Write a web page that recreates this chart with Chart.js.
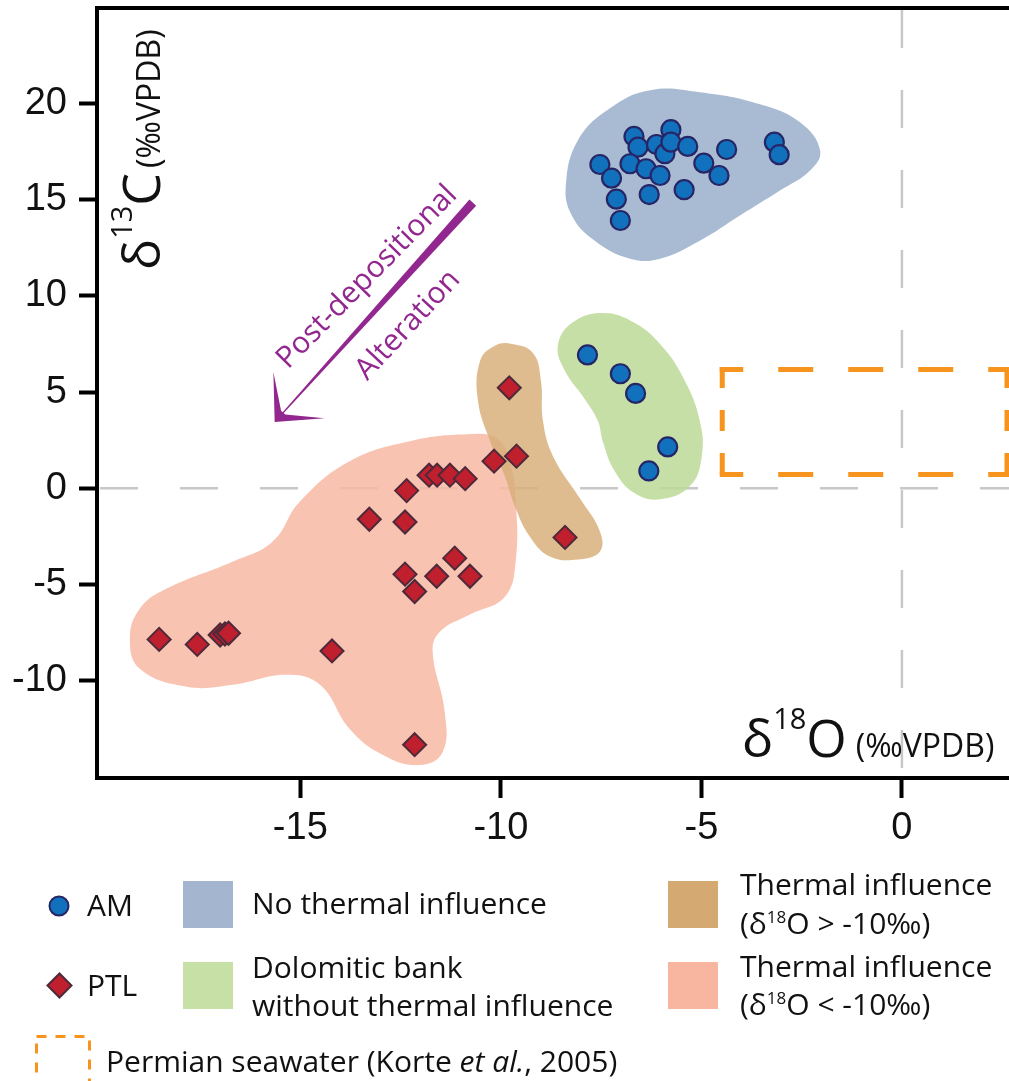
<!DOCTYPE html>
<html>
<head>
<meta charset="utf-8">
<script src="https://cdn.jsdelivr.net/npm/chart.js@4.4.1/dist/chart.umd.min.js"></script>
<style>
  html, body { margin: 0; padding: 0; background: #fff; }
  canvas { display: block; }
</style>
</head>
<body>
<canvas id="chart" width="1009" height="1081"></canvas>
<script>
const FONT = "'Open Sans', 'Noto Sans', sans-serif";
const TICK_FONT = "'Liberation Sans', Arial, sans-serif";
const PURPLE = '#92278f';
const ORANGE = '#f7941d';

// Axis ranges and ticks (δ18O on x, δ13C on y, ‰ VPDB)
const X_MIN = -20.07, X_MAX = 2.67;
const Y_MIN = -15.05, Y_MAX = 24.95;
const xTicks = [-15, -10, -5, 0];
const yTicks = [-10, -5, 0, 5, 10, 15, 20];

// AM samples (circles)
const amX = [-7.53, -7.24, -7.12, -7.02, -6.68, -6.58, -6.78, -6.38, -6.03, -6.30, -6.12, -5.91, -5.76, -5.76, -5.34, -5.43, -4.94, -4.56, -4.37, -3.18, -3.06,
             -7.84, -7.02, -6.64, -5.84, -6.31];
const amY = [16.82, 16.11, 15.02, 13.91, 18.28, 17.72, 16.86, 16.60, 16.25, 15.26, 17.86, 17.38, 18.63, 17.98, 17.76, 15.51, 16.89, 16.25, 17.60, 17.98, 17.33,
             6.93, 5.95, 4.93, 2.15, 0.90];

// PTL samples (diamonds)
const ptlX = [-9.79, -9.61, -10.17, -8.40, -11.79, -11.59, -11.27, -10.89, -12.35, -13.28, -12.39, -11.15, -12.39, -11.60, -10.77, -12.15,
              -18.52, -17.57, -17.00, -16.88, -16.79, -14.21, -12.15];
const ptlY = [5.22, 1.67, 1.41, -2.55, 0.68, 0.68, 0.68, 0.50, -0.12, -1.61, -1.75, -3.63, -4.46, -4.57, -4.57, -5.36,
              -7.85, -8.11, -7.62, -7.57, -7.53, -8.45, -13.32];

// Group outlines (closed smooth shapes)
const blueBlobX = [-8.38, -8.08, -7.28, -6.28, -5.04, -3.54, -2.54, -2.04, -2.29, -3.04, -4.04, -5.04, -6.03, -6.78, -7.66, -8.23];
const blueBlobY = [15.73, 18.07, 19.74, 20.68, 20.57, 19.95, 19.01, 17.55, 16.51, 15.47, 14.17, 12.86, 11.93, 11.93, 12.86, 14.17];
const greenBlobX = [-7.46, -6.66, -5.99, -5.41, -5.04, -4.99, -5.29, -6.03, -6.66, -7.16, -7.46, -7.58, -7.91, -8.40, -8.58, -8.23];
const greenBlobY = [9.11, 8.59, 7.40, 5.57, 3.49, 1.67, 0.10, -0.57, -0.26, 0.89, 2.45, 3.49, 4.64, 6.09, 7.40, 8.59];
const tanBlobX = [-9.73, -9.20, -9.00, -8.95, -8.70, -8.03, -7.53, -7.53, -8.08, -8.78, -9.28, -9.65, -9.90, -10.27, -10.57, -10.52, -10.15];
const tanBlobY = [7.50, 7.03, 5.57, 3.49, 1.67, -0.52, -2.24, -3.28, -3.70, -3.54, -2.50, -0.94, 0.63, 2.45, 4.53, 6.61, 7.40];
const salmonBlobX = [-12.27, -10.85, -10.10, -9.78, -9.63, -9.63, -9.90, -10.77, -11.52, -11.70, -11.40, -11.45, -12.02, -12.94, -13.77, -14.51,
                     -15.34, -16.68, -17.83, -19.00, -19.25, -19.00, -18.33, -16.68, -15.69, -15.01, -13.77];
const salmonBlobY = [2.45, 2.81, 2.60, 1.41, -0.68, -3.80, -5.63, -6.56, -7.45, -8.49, -11.61, -13.70, -14.38, -13.85, -12.50, -10.21,
                     -9.69, -10.21, -10.31, -9.38, -7.81, -6.25, -5.21, -3.80, -2.76, -0.68, 1.41];

// Permian seawater box (Korte et al., 2005)
const seawaterX = [-4.48, 2.62];
const seawaterY = [0.71, 6.17];

// Alteration arrow (from, to) in data units
const arrowFrom = [-10.70, 14.84];
const arrowTo = [-15.64, 3.44];

const xy = (xs, ys) => xs.map((v, i) => ({ x: v, y: ys[i] }));
// wrap the outline so the spline closes smoothly
const loop = (xs, ys) => {
    const p = xy(xs, ys);
    return [p[p.length - 1], ...p, p[0], p[1]];
};

function blob(label, xs, ys, color) {
    return {
        type: 'line', label, data: loop(xs, ys),
        backgroundColor: color, borderColor: 'transparent', borderWidth: 0,
        pointRadius: 0, fill: 'shape', tension: 0.42, order: 10
    };
}

function dashLine(label, data, color, width, dash, offset, cap, order) {
    return {
        type: 'line', label, data,
        borderColor: color, borderWidth: width, borderDash: dash, borderDashOffset: offset,
        borderCapStyle: cap, pointRadius: 0, fill: false, tension: 0, order
    };
}

const datasets = [
    dashLine('zeroV', [{ x: 0, y: Y_MAX }, { x: 0, y: Y_MIN }], '#c8c8c8', 2.5, [38, 42], 78, 'butt', 30),
    dashLine('zeroH', [{ x: X_MIN, y: 0 }, { x: X_MAX, y: 0 }], '#c8c8c8', 2.5, [38, 42], 77, 'butt', 30),
    blob('No thermal influence', blueBlobX, blueBlobY, 'rgba(154,175,202,0.85)'),
    blob('Dolomitic bank', greenBlobX, greenBlobY, 'rgba(187,217,150,0.85)'),
    blob('Thermal >-10', tanBlobX, tanBlobY, 'rgba(216,176,123,0.85)'),
    blob('Thermal <-10', salmonBlobX, salmonBlobY, 'rgba(248,184,164,0.85)'),
    dashLine('swTop', [{ x: seawaterX[0], y: seawaterY[1] }, { x: seawaterX[1], y: seawaterY[1] }], ORANGE, 5, [30, 40], 11.5, 'square', 3),
    dashLine('swBottom', [{ x: seawaterX[0], y: seawaterY[0] }, { x: seawaterX[1], y: seawaterY[0] }], ORANGE, 5, [30, 40], 11.5, 'square', 3),
    dashLine('swLeft', [{ x: seawaterX[0], y: seawaterY[1] }, { x: seawaterX[0], y: seawaterY[0] }], ORANGE, 5, [16, 27], 0, 'square', 3),
    dashLine('swRight', [{ x: seawaterX[1], y: seawaterY[1] }, { x: seawaterX[1], y: seawaterY[0] }], ORANGE, 5, [16, 27], 0, 'square', 3),
    {
        label: 'AM', data: xy(amX, amY), order: 1,
        pointStyle: 'circle', pointRadius: 9.5, pointBorderWidth: 2.2,
        pointBackgroundColor: '#1271bd', pointBorderColor: '#262566'
    },
    {
        label: 'PTL', data: xy(ptlX, ptlY), order: 0,
        pointStyle: 'rectRot', pointRadius: 11.5, pointBorderWidth: 2,
        pointBackgroundColor: '#c01f2e', pointBorderColor: '#4d2a3a'
    }
];

// draws a run of text pieces along one baseline
function drawRich(ctx, parts, x, y) {
    let cx = x;
    for (const p of parts) {
        ctx.font = `${p.style || ''} ${p.size}px ${FONT}`;
        ctx.fillText(p.text, cx, y + (p.dy || 0));
        cx += ctx.measureText(p.text).width + (p.gap || 0);
    }
    return cx;
}

const overlay = {
    id: 'overlay',
    afterDraw(chart) {
        const { ctx, chartArea: a, scales } = chart;
        const px = v => scales.x.getPixelForValue(v);
        const py = v => scales.y.getPixelForValue(v);
        ctx.save();

        // top frame line
        ctx.strokeStyle = '#000';
        ctx.lineWidth = 4;
        ctx.beginPath();
        ctx.moveTo(a.left - 2, a.top);
        ctx.lineTo(a.right, a.top);
        ctx.stroke();

        // axis titles
        ctx.fillStyle = '#111';
        ctx.textAlign = 'left';
        ctx.textBaseline = 'alphabetic';
        const title = (sup, letter, gap) => [
            { text: 'δ', size: 52 },
            { text: sup, size: 29, dy: -28 },
            { text: letter, size: 52, gap },
            { text: '(‰VPDB)', size: 32 }
        ];
        drawRich(ctx, title('18', 'O', 9), 742, 757);
        ctx.save();
        ctx.translate(160, 270);
        ctx.rotate(-Math.PI / 2);
        drawRich(ctx, title('13', 'C', 5), 0, 0);
        ctx.restore();

        // alteration arrow
        const T = { x: px(arrowFrom[0]), y: py(arrowFrom[1]) };
        const P = { x: px(arrowTo[0]), y: py(arrowTo[1]) };
        const ang = Math.atan2(T.y - P.y, T.x - P.x);
        const ux = Math.cos(ang), uy = Math.sin(ang), nx = -uy, ny = ux;
        ctx.fillStyle = PURPLE;
        ctx.beginPath();
        ctx.moveTo(T.x + nx * 4.5, T.y + ny * 4.5);
        ctx.lineTo(T.x - nx * 4.5, T.y - ny * 4.5);
        ctx.lineTo(P.x + ux * 6 - nx * 0.6, P.y + uy * 6 - ny * 0.6);
        ctx.lineTo(P.x + ux * 6 + nx * 0.6, P.y + uy * 6 + ny * 0.6);
        ctx.closePath();
        ctx.fill();
        const pt = (t, r) => [P.x + Math.cos(t) * r, P.y + Math.sin(t) * r];
        const head = [[P.x, P.y], pt(ang - 0.76, 50), pt(ang - 0.22, 13), pt(ang + 0.22, 13), pt(ang + 0.76, 50)];
        ctx.beginPath();
        head.forEach(([hx, hy], i) => (i ? ctx.lineTo(hx, hy) : ctx.moveTo(hx, hy)));
        ctx.closePath();
        ctx.fill();

        ctx.font = `30px ${FONT}`;
        ctx.textAlign = 'center';
        ctx.textBaseline = 'middle';
        ctx.save();
        ctx.translate(367, 277);
        ctx.rotate(-45.5 * Math.PI / 180);
        ctx.fillText('Post-depositional', 0, 0);
        ctx.restore();
        ctx.save();
        ctx.translate(408, 325);
        ctx.rotate(-47 * Math.PI / 180);
        ctx.fillText('Alteration', 0, 0);
        ctx.restore();

        // legend
        ctx.textAlign = 'left';
        ctx.textBaseline = 'alphabetic';
        ctx.fillStyle = '#1271bd';
        ctx.strokeStyle = '#262566';
        ctx.lineWidth = 2;
        Chart.helpers.drawPoint(ctx, { pointStyle: 'circle', radius: 9.5, borderWidth: 2 }, 59, 906);
        ctx.fillStyle = '#c01f2e';
        ctx.strokeStyle = '#4d2a3a';
        Chart.helpers.drawPoint(ctx, { pointStyle: 'rectRot', radius: 12, borderWidth: 2 }, 59.5, 985.5);

        const swatches = [
            ['#a4b5cf', 183, 881], ['#c6e0a5', 183, 962],
            ['#d5aa72', 668, 881], ['#f8b5a0', 668, 962]
        ];
        for (const [c, sx, sy] of swatches) {
            ctx.fillStyle = c;
            ctx.fillRect(sx, sy, 50, 47);
        }

        ctx.fillStyle = '#111';
        ctx.font = `30px ${FONT}`;
        ctx.fillText('AM', 87, 916);
        ctx.fillText('PTL', 87, 996);
        ctx.fillText('No thermal influence', 252, 914);
        ctx.fillText('Dolomitic bank', 252, 978);
        ctx.fillText('without thermal influence', 252, 1016);
        ctx.fillText('Thermal influence', 740, 895);
        ctx.fillText('Thermal influence', 740, 977);
        const range = sign => [
            { text: '(δ', size: 30 },
            { text: '18', size: 17, dy: -11 },
            { text: `O ${sign} -10‰)`, size: 30 }
        ];
        drawRich(ctx, range('>'), 740, 934);
        drawRich(ctx, range('<'), 740, 1015);
        drawRich(ctx, [
            { text: 'Permian seawater (Korte ', size: 30 },
            { text: 'et al.', size: 30, style: 'italic' },
            { text: ', 2005)', size: 30 }
        ], 106, 1072);

        ctx.strokeStyle = ORANGE;
        ctx.lineWidth = 3;
        ctx.setLineDash([10, 9]);
        ctx.strokeRect(36.5, 1036.5, 53, 60);
        ctx.setLineDash([]);

        ctx.restore();
    }
};

new Chart(document.getElementById('chart'), {
    type: 'scatter',
    data: { datasets },
    options: {
        responsive: false,
        animation: false,
        devicePixelRatio: 1,
        events: [],
        layout: { autoPadding: false, padding: { top: 8, right: 0, bottom: 220, left: 0 } },
        plugins: { legend: { display: false }, tooltip: { enabled: false } },
        scales: {
            x: {
                type: 'linear', min: X_MIN, max: X_MAX,
                afterBuildTicks: s => { s.ticks = xTicks.map(v => ({ value: v })); },
                afterFit: s => { s.height = 83; s.paddingLeft = 0; s.paddingRight = 0; },
                ticks: { autoSkip: false, maxRotation: 0, padding: 8, color: '#111', font: { family: TICK_FONT, size: 38 } },
                grid: { drawOnChartArea: false, drawTicks: true, tickLength: 20, tickWidth: 4, tickColor: '#000' },
                border: { display: true, color: '#000', width: 4 }
            },
            y: {
                type: 'linear', min: Y_MIN, max: Y_MAX,
                afterBuildTicks: s => { s.ticks = yTicks.map(v => ({ value: v })); },
                afterFit: s => { s.width = 97; s.paddingTop = 0; s.paddingBottom = 0; },
                ticks: { autoSkip: false, padding: 12, color: '#111', font: { family: TICK_FONT, size: 38 } },
                grid: { drawOnChartArea: false, drawTicks: true, tickLength: 18, tickWidth: 4, tickColor: '#000' },
                border: { display: true, color: '#000', width: 4 }
            }
        }
    },
    plugins: [overlay]
});
</script>
</body>
</html>
